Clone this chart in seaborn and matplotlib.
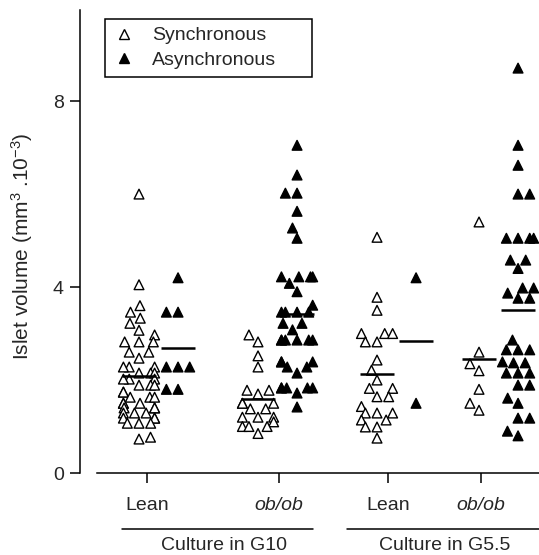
import numpy as np
import pandas as pd
import matplotlib
matplotlib.use("Agg")
import matplotlib.pyplot as plt
from matplotlib.lines import Line2D
import seaborn as sns

# ---------------- data (islet volume, mm^3 .10^-3) ----------------
groups = ["Lean G10", "ob/ob G10", "Lean G5.5", "ob/ob G5.5"]
types = ["Synchronous", "Asynchronous"]

lean_g10_sync = [6.0, 4.05, 3.6, 3.46, 3.33, 3.22, 3.07, 2.97, 2.82, 2.82, 2.82,
                 2.6, 2.6, 2.47, 2.28, 2.28, 2.28, 2.15, 2.15, 2.15, 2.02, 2.02,
                 2.02, 1.89, 1.89, 1.89, 1.74, 1.74, 1.63, 1.63, 1.63, 1.5, 1.5,
                 1.5, 1.4, 1.4, 1.4, 1.29, 1.29, 1.29, 1.18, 1.18, 1.18, 1.07,
                 1.07, 1.07, 0.77, 0.73]
lean_g10_async = [4.2, 3.46, 3.46, 2.28, 2.28, 2.28, 1.8, 1.8]
obob_g10_sync = [2.97, 2.82, 2.52, 2.28, 1.78, 1.78, 1.70, 1.5, 1.5, 1.5, 1.38,
                 1.38, 1.2, 1.2, 1.2, 1.1, 1.0, 1.0, 1.0, 0.85]
obob_g10_async = [7.05, 6.41, 6.02, 6.02, 5.63, 5.27, 5.05, 4.22, 4.22, 4.22,
                  4.22, 4.08, 3.9, 3.61, 3.46, 3.46, 3.46, 3.46, 3.22, 3.22,
                  3.08, 2.86, 2.86, 2.86, 2.86, 2.86, 2.86, 2.39, 2.39, 2.39,
                  2.28, 2.28, 2.15, 1.83, 1.83, 1.83, 1.83, 1.83, 1.72, 1.42]
lean_g55_sync = [5.07, 3.78, 3.5, 3.0, 3.0, 3.0, 2.82, 2.82, 2.43, 2.21, 2.0,
                 1.82, 1.82, 1.64, 1.64, 1.43, 1.29, 1.29, 1.29, 1.14, 1.14,
                 0.99, 0.99, 0.75]
lean_g55_async = [4.2, 1.5]
obob_g55_sync = [5.4, 2.6, 2.35, 2.2, 1.8, 1.5, 1.35]
obob_g55_async = [8.71, 7.05, 6.62, 6.0, 6.0, 5.05, 5.05, 5.05, 5.05, 4.58,
                  4.58, 4.4, 3.98, 3.98, 3.87, 3.76, 3.76, 2.86, 2.65, 2.65,
                  2.65, 2.39, 2.37, 2.37, 2.15, 2.15, 2.15, 1.89, 1.89, 1.61,
                  1.5, 1.18, 1.18, 0.9, 0.8]

group_labels = ["Lean", "ob/ob", "Lean", "ob/ob"]
culture_labels = ["Culture in G10", "Culture in G5.5"]
ylabel = r"Islet volume (mm$^3$ .10$^{-3}$)"

series = {
    ("Lean G10", "Synchronous"): lean_g10_sync,
    ("Lean G10", "Asynchronous"): lean_g10_async,
    ("ob/ob G10", "Synchronous"): obob_g10_sync,
    ("ob/ob G10", "Asynchronous"): obob_g10_async,
    ("Lean G5.5", "Synchronous"): lean_g55_sync,
    ("Lean G5.5", "Asynchronous"): lean_g55_async,
    ("ob/ob G5.5", "Synchronous"): obob_g55_sync,
    ("ob/ob G5.5", "Asynchronous"): obob_g55_async,
}

# ---------------- layout ----------------
group_pos = {"Lean G10": 0.0, "ob/ob G10": 1.0, "Lean G5.5": 2.0, "ob/ob G5.5": 2.857}
type_off = {"Synchronous": -0.164, "Asynchronous": 0.164}
tick_pos = [-0.097, 1.012, 1.928, 2.71]

rows = []
for (g, t), vals in series.items():
    for v in vals:
        rows.append({"group": g, "type": t, "value": v,
                     "x": group_pos[g] + type_off[t]})
df = pd.DataFrame(rows)

sns.set_style("ticks")
plt.rcParams["font.family"] = ["Liberation Sans", "DejaVu Sans"]
plt.rcParams["mathtext.default"] = "regular"

fig = plt.figure(figsize=(5.39, 5.55), dpi=100)
ax = fig.add_axes([97 / 539, (555 - 473) / 555, 442 / 539, 463 / 555])

sns.swarmplot(data=df, x="x", y="value", hue="type", native_scale=True,
              palette={"Synchronous": "white", "Asynchronous": "black"},
              marker="^", size=7.0, edgecolor="black", linewidth=1.0,
              legend=False, ax=ax, zorder=3)

means = df.groupby(["group", "type"])["value"].mean()
for (g, t), m in means.items():
    xc = group_pos[g] + type_off[t]
    ax.hlines(m, xc - 0.14, xc + 0.14, color="black", lw=1.8, zorder=4)

ax.set_xlim(-0.517, 3.197)
ax.set_ylim(0, 9.96)
ax.set_yticks([0, 4, 8])
ax.set_xticks(tick_pos)
ax.set_xticklabels(group_labels)
for lbl in ax.get_xticklabels()[1::2]:
    lbl.set_style("italic")
ax.tick_params(axis="both", labelsize=14, length=7, width=1.1, color="black")
ax.tick_params(axis="x", pad=10)
ax.tick_params(axis="y", pad=5)
ax.set_xlabel("")
ax.set_ylabel(ylabel, fontsize=15)
ax.yaxis.set_label_coords(-0.14, 0.49)

for s in ["top", "right"]:
    ax.spines[s].set_visible(False)
for s in ["left", "bottom"]:
    ax.spines[s].set_linewidth(1.1)
    ax.spines[s].set_color("black")
ax.spines["left"].set_position(("outward", 12))

# group brackets under the axis
tr = ax.transAxes
def fx(px):
    return (px - 97) / 442
def fy(py):
    return (473 - py) / 463
ax.plot([fx(122), fx(313)], [fy(529), fy(529)], transform=tr, color="black",
        lw=1.1, clip_on=False)
ax.plot([fx(347), fx(539)], [fy(529), fy(529)], transform=tr, color="black",
        lw=1.1, clip_on=False)
ax.text(fx(224), fy(545), culture_labels[0], transform=tr, ha="center",
        va="center", fontsize=14)
ax.text(fx(445), fy(545), culture_labels[1], transform=tr, ha="center",
        va="center", fontsize=14)

handles = [
    Line2D([], [], marker="^", linestyle="none", markerfacecolor="white",
           markeredgecolor="black", markersize=7, markeredgewidth=1.0),
    Line2D([], [], marker="^", linestyle="none", markerfacecolor="black",
           markeredgecolor="black", markersize=7),
]
leg = ax.legend(handles, types, loc="upper left", mode="expand",
                bbox_to_anchor=(fx(105), fy(80), fx(312) - fx(105), fy(19) - fy(80)),
                borderaxespad=0,
                frameon=True, fancybox=False, edgecolor="black", fontsize=14,
                handletextpad=0.8, labelspacing=0.35, borderpad=0.4,
                handlelength=1.2)
leg.get_frame().set_linewidth(1.1)
leg.get_frame().set_alpha(1)

fig.savefig("out.png", dpi=100)
